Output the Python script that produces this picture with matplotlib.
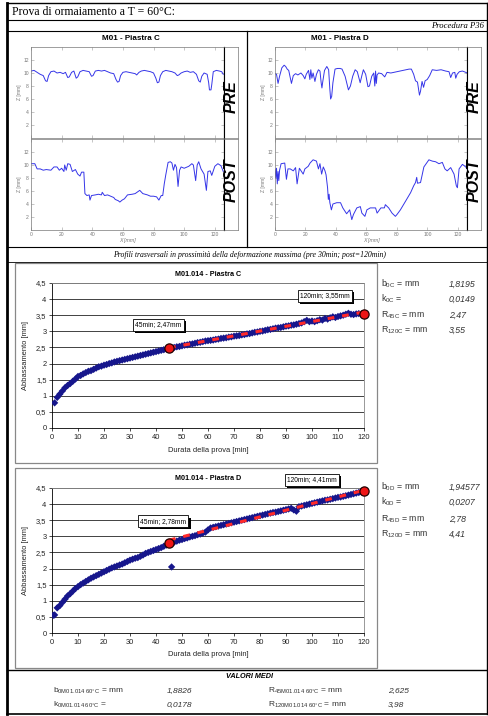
import matplotlib
matplotlib.use('Agg')
import matplotlib.pyplot as plt
from matplotlib.lines import Line2D
from matplotlib.patches import Rectangle
import matplotlib.patheffects as pe

# ---------------- DATA ----------------
# Transverse profiles (x [mm], z [mm])
pre_c_x = [0, 2, 4, 6, 8, 9.5, 10.5, 11.5, 13, 15, 17, 19, 21, 22.5, 24, 25, 26.5, 28, 29.5, 30.5, 32, 34, 36, 38,
           39.5, 40.5, 42, 44, 46, 48, 50, 52, 54, 55.5, 56.5, 57.5, 58.5, 60, 62, 64, 66, 68, 69, 70.5, 72, 74, 76,
           78, 80, 81.5, 82.5, 83.5, 84.5, 86, 88, 90, 92, 94, 95.5, 96.5, 98, 100, 102, 104, 106, 108, 109.5, 110.5,
           111.5, 113, 115, 116, 116.5, 117.5, 118, 119, 121, 123, 124.5, 125.5]
pre_c_z = [10.3, 10.4, 10.1, 9.8, 9.6, 8.8, 8.7, 9.6, 10.2, 10.3, 10.0, 10.1, 9.9, 10.1, 9.3, 9.4, 10.1, 10.3, 9.2, 9.4,
           10.2, 10.4, 10.3, 10.2, 9.5, 9.6, 10.3, 10.4, 10.3, 10.4, 10.2, 10.0, 9.9, 9.0, 8.6, 8.7, 9.6, 10.1, 10.2,
           10.1, 10.0, 9.9, 9.7, 10.1, 10.3, 10.4, 10.3, 10.2, 10.0, 9.2, 8.5, 8.6, 9.6, 10.2, 10.4, 10.3, 10.2, 10.0,
           9.6, 9.7, 10.0, 10.2, 10.3, 10.1, 10.2, 9.8, 8.8, 8.6, 9.5, 10.0, 9.8, 8.5, 7.4, 7.4, 8.2, 10.2, 10.4, 10.3,
           10.2, 9.8]

post_c_x = [0, 2.5, 4, 6, 8, 10, 13, 15, 17, 18.5, 20, 21.5, 22, 23, 24, 25.5, 27, 29, 30.5, 32, 33, 34.5, 35.2, 36.5,
            38, 38.5, 39.5, 42, 44, 46, 46.5, 48, 50, 52, 54, 55, 57, 58, 59.5, 61, 63, 66, 68, 71, 73, 76, 78, 80, 82,
            83.5, 85, 86, 87, 88, 89.5, 91, 92, 93, 94, 95, 96, 97, 98, 100, 103, 105, 106, 107.5, 108.5, 109.5, 111,
            113, 114.5, 115.5, 117, 118, 120, 122, 124, 125.5]
post_c_z = [10.2, 10.2, 9.4, 9.4, 9.2, 9.3, 9.2, 9.7, 9.7, 9.2, 9.5, 9.0, 10.0, 9.2, 10.2, 10.1, 9.0, 9.3, 8.6, 8.3,
            8.9, 8.9, 5.6, 5.3, 5.4, 4.6, 5.3, 5.4, 5.5, 5.4, 5.8, 5.3, 5.4, 5.2, 5.0, 4.7, 4.5, 4.3, 4.6, 4.8, 5.4, 5.5,
            5.6, 6.1, 5.6, 5.4, 5.2, 5.2, 5.1, 4.6, 5.3, 5.3, 7.1, 8.5, 10.4, 10.5, 10.3, 9.2, 10.1, 9.6, 6.7, 9.2, 9.7,
            9.5, 9.8, 10.2, 10.0, 7.6, 10.0, 10.5, 9.4, 8.6, 6.1, 9.0, 9.1, 8.4, 9.8, 10.2, 9.9, 9.0]

pre_d_x = [0, 1, 2, 3, 4.5, 6, 7, 8, 9, 10.8, 12, 13.5, 15, 17, 18.5, 19.6, 20.5, 22, 22.9, 23.5, 24.2, 25, 26.2,
           27.2, 28.5, 29.5, 30.3, 30.8, 31.3, 32.5, 34, 35.2, 36, 36.5, 37.2, 38, 39.4, 41, 42.7, 44, 46, 48.2, 49.5,
           51, 52.6, 54, 55.9, 57, 58, 59.5, 61, 62, 63.5, 64.8, 65.5, 66, 66.5, 67, 68, 70, 72, 73.5, 76, 80, 84, 88,
           89.5, 91, 92.2, 93.5, 94.8, 95.5, 96.5, 97.5, 98.5, 99.9, 101.5, 103.2, 106, 109, 112, 114.2, 115.3, 116.5,
           118, 118.6, 119.5, 121, 123, 125.2, 126]
pre_d_z = [9.9, 9.8, 8.4, 9.5, 10.8, 11.2, 11.0, 10.6, 10.4, 8.4, 9.6, 9.9, 9.7, 10.0, 9.6, 9.1, 9.8, 10.4, 9.0, 10.5,
           9.2, 10.0, 8.7, 9.8, 10.5, 10.3, 8.5, 7.7, 8.6, 10.4, 11.0, 10.5, 7.5, 6.0, 6.4, 8.5, 10.6, 10.7, 10.7, 10.6,
           9.5, 7.4, 8.0, 9.5, 10.5, 10.2, 8.5, 9.6, 10.5, 9.8, 7.9, 8.0, 9.5, 10.0, 8.0, 10.3, 8.4, 9.7, 10.0, 9.9,
           9.4, 10.1, 10.0, 10.2, 10.4, 10.6, 10.6, 9.8, 8.8, 8.6, 6.6, 7.2, 8.7, 7.8, 8.8, 9.0, 9.6, 10.5, 10.4, 10.5,
           10.3, 10.2, 9.3, 10.0, 10.1, 9.2, 9.8, 10.2, 10.3, 10.1, 10.0]

post_d_x = [0, 0.5, 1, 1.5, 2, 2.5, 3, 4, 6.4, 7.5, 8.5, 10, 12, 13.5, 14.5, 16, 18.5, 19.6, 21.8, 23, 25, 27.2, 28.5,
            29.5, 30.6, 31.7, 32.8, 33.5, 34.5, 35, 35.5, 36, 37, 38, 40.5, 43, 44.5, 47, 49, 50.4, 51.5, 53.7, 56, 57,
            59, 60.3, 62.5, 66, 67, 69.5, 71.8, 72.4, 74.6, 76.8, 79, 80.1, 82.3, 85.6, 89, 91, 92.2, 93, 93.5, 95.5,
            97.7, 101, 103.2, 105.4, 107.6, 109.8, 111.5, 113, 115.3, 117.5, 119, 119.7, 120.8, 123, 125.2, 126]
post_d_z = [9.4, 8.0, 9.5, 7.1, 9.0, 7.6, 9.2, 10.2, 10.3, 7.8, 9.4, 9.4, 9.1, 9.6, 7.1, 9.5, 8.6, 9.4, 9.8, 10.3,
            10.8, 10.6, 9.4, 10.2, 8.6, 9.7, 9.1, 8.5, 6.5, 4.7, 5.5, 4.2, 3.1, 4.0, 4.2, 4.2, 3.4, 2.5, 3.1, 1.6, 2.4,
            3.4, 3.6, 2.6, 2.1, 3.1, 3.4, 3.4, 2.6, 3.4, 3.4, 3.9, 3.4, 2.6, 2.1, 2.4, 3.1, 4.4, 5.75, 6.8, 7.3, 8.1,
            7.2, 7.3, 9.7, 10.8, 10.6, 10.5, 10.2, 10.4, 9.4, 9.1, 9.6, 8.6, 6.8, 6.5, 9.4, 10.1, 9.7, 9.4]

# Rutting curves (time [min], depth [mm])
time_c = list(range(1, 121))
depth_c = [0.78, 0.95, 1.05, 1.15, 1.25, 1.32, 1.38, 1.45, 1.52, 1.60, 1.63, 1.68, 1.72, 1.76, 1.78, 1.82, 1.86, 1.90,
           1.92, 1.95, 1.97, 2.00, 2.02, 2.05, 2.07, 2.09, 2.11, 2.13, 2.15, 2.17, 2.19, 2.21, 2.23, 2.25, 2.27, 2.29,
           2.31, 2.33, 2.35, 2.37, 2.39, 2.41, 2.43, 2.45, 2.47, 2.48, 2.50, 2.52, 2.53, 2.55, 2.57, 2.58, 2.60, 2.61,
           2.63, 2.65, 2.66, 2.68, 2.70, 2.71, 2.72, 2.73, 2.75, 2.76, 2.78, 2.79, 2.80, 2.82, 2.83, 2.85, 2.86, 2.87,
           2.89, 2.90, 2.92, 2.93, 2.95, 2.97, 2.98, 3.00, 3.01, 3.03, 3.05, 3.06, 3.08, 3.10, 3.11, 3.12, 3.14, 3.16,
           3.17, 3.19, 3.20, 3.22, 3.24, 3.26, 3.30, 3.34, 3.30, 3.32, 3.30, 3.33, 3.36, 3.35, 3.40, 3.38, 3.42, 3.45,
           3.43, 3.46, 3.48, 3.50, 3.53, 3.56, 3.53, 3.52, 3.54, 3.55, 3.54, 3.55]
time_d = [0.5] + list(range(1, 121))
depth_d = [0.55, 0.56, 0.78, 0.85, 0.95, 1.05, 1.15, 1.22, 1.30, 1.38, 1.44, 1.50, 1.55, 1.60, 1.65, 1.70, 1.74, 1.78,
           1.82, 1.86, 1.90, 1.94, 1.98, 2.02, 2.05, 2.08, 2.11, 2.14, 2.18, 2.22, 2.26, 2.29, 2.32, 2.34, 2.38, 2.42,
           2.47, 2.50, 2.53, 2.56, 2.59, 2.62, 2.65, 2.69, 2.73, 2.78, 2.05, 2.82, 2.85, 2.88, 2.90, 2.93, 2.95, 2.98,
           3.00, 3.02, 3.05, 3.07, 3.10, 3.13, 3.20, 3.26, 3.28, 3.30, 3.32, 3.34, 3.36, 3.38, 3.40, 3.42, 3.44, 3.46,
           3.48, 3.50, 3.52, 3.54, 3.56, 3.58, 3.60, 3.62, 3.64, 3.66, 3.68, 3.70, 3.72, 3.74, 3.75, 3.77, 3.79, 3.81,
           3.83, 3.85, 3.87, 3.82, 3.78, 3.92, 3.94, 3.96, 3.98, 4.00, 4.02, 4.04, 4.06, 4.08, 4.10, 4.12, 4.13, 4.15,
           4.17, 4.19, 4.21, 4.22, 4.24, 4.26, 4.28, 4.30, 4.32, 4.34, 4.36, 4.38, 4.41]

fit_c_t = [45, 120]
fit_c_v = [2.49, 3.60]
fit_d_t = [45, 120]
fit_d_v = [2.88, 4.43]

key_t = [45, 120]
key_c = [2.47, 3.55]
key_d = [2.78, 4.41]

label_c = ["45min; 2,47mm", "120min; 3,55mm"]
label_d = ["45min; 2,78mm", "120min; 4,41mm"]

y_ticks = [0, 0.5, 1, 1.5, 2, 2.5, 3, 3.5, 4, 4.5]
y_tick_labels = ["0", "0,5", "1", "1,5", "2", "2,5", "3", "3,5", "4", "4,5"]
x_ticks = list(range(0, 121, 10))

params_c = [("b", "0C", " = mm", "1,8195"), ("k", "0C", " =", "0,0149"),
            ("R", "45C", " = mm", "2,47"), ("R", "120C", " = mm", "3,55")]
params_d = [("b", "0D", " = mm", "1,94577"), ("k", "0D", " =", "0,0207"),
            ("R", "45D", " = mm", "2,78"), ("R", "120D", " = mm", "4,41")]
mean_left = [("b", "0M01.014 60°C", " = mm", "1,8826"), ("k", "0M01.014 60°C", " =", "0,0178")]
mean_right = [("R", "45M01.014 60°C", " = mm", "2,625"), ("R", "120M01.014 60°C", " = mm", "3,98")]

# ---------------- FIGURE ----------------
W, H = 489, 716
SANS = 'Liberation Sans'
SERIF = 'Liberation Serif'
plt.rcParams['font.family'] = [SANS, 'DejaVu Sans']
plt.rcParams['mathtext.fontset'] = 'custom'
plt.rcParams['mathtext.rm'] = SANS
plt.rcParams['mathtext.it'] = SANS + ':italic'

fig = plt.figure(figsize=(W / 100, H / 100), dpi=100)
fig.patch.set_facecolor('white')


def rect(x0, y0, x1, y1):
    return [x0 / W, 1 - y1 / H, (x1 - x0) / W, (y1 - y0) / H]


def hline(y, x0, x1, lw=0.8, color='black'):
    fig.add_artist(Line2D([x0 / W, x1 / W], [1 - y / H, 1 - y / H], transform=fig.transFigure,
                          color=color, lw=lw))


def vline(x, y0, y1, lw=0.8, color='black'):
    fig.add_artist(Line2D([x / W, x / W], [1 - y0 / H, 1 - y1 / H], transform=fig.transFigure,
                          color=color, lw=lw))


def ftext(x, y, s, **kw):
    return fig.text(x / W, 1 - y / H, s, **kw)


# frame lines
hline(3, 7, 487, lw=1.0)
hline(20, 7, 487)
hline(31, 7, 487)
hline(247, 7, 487)
hline(262, 7, 487, lw=0.6)
hline(670, 7, 487, lw=1.0)
hline(714, 7, 487, lw=1.2)
vline(7.5, 3, 714, lw=2.0)
vline(487, 3, 714, lw=1.0)
vline(247, 31, 247, lw=0.9)

ftext(12, 12, "Prova di ormaiamento a T = 60°C:", family=SERIF, fontsize=8.5, va='center', ha='left')
ftext(484, 26, "Procedura P36", family=SERIF, fontsize=6.2, style='italic', va='center', ha='right')
ftext(250, 255, "Profili trasversali in prossimità della deformazione massima (pre 30min; post=120min)",
      family=SERIF, fontsize=5.6, style='italic', va='center', ha='center')


def profile(x0, y0, x1, y1, xs, zs, show_x, tag, tag_pos, box_x1):
    ax = fig.add_axes(rect(x0, y0, x1, y1))
    ax.plot(xs, zs, color='#3535e8', lw=0.7)
    ax.set_xlim(0, 126)
    ax.set_ylim(0, 14)
    ax.set_xticks(range(0, 121, 20))
    ax.set_yticks(range(2, 13, 2))
    ax.tick_params(direction='in', length=2, width=0.4, top=True, right=True, labelsize=3.6,
                   labelcolor='#777', color='#999', pad=1.5)
    if not show_x:
        ax.tick_params(labelbottom=False)
    else:
        ax.set_xlabel("X [mm]", fontsize=3.8, color='#777', style='italic', labelpad=1)
    ax.set_ylabel("Z [mm]", fontsize=3.6, color='#777', labelpad=1)
    for s in ax.spines.values():
        s.set_linewidth(0.5)
        s.set_color('#777')
    ax.spines['right'].set_color('black')
    ax.spines['right'].set_linewidth(0.8)
    bx = fig.add_axes(rect(x1, y0, box_x1, y1))
    bx.set_xticks([])
    bx.set_yticks([])
    for s in bx.spines.values():
        s.set_linewidth(0.5)
        s.set_color('#777')
    bx.spines['left'].set_color('black')
    bx.spines['left'].set_linewidth(0.8)
    bx.text(0.5, tag_pos, tag, rotation=90, fontsize=11.5, fontweight='bold', style='italic',
            ha='center', va='center', transform=bx.transAxes)
    return ax


ftext(131, 38, "M01 - Piastra C", fontsize=5.8, fontweight='bold', ha='center', va='center')
ftext(340, 38, "M01 - Piastra D", fontsize=5.8, fontweight='bold', ha='center', va='center')
profile(31, 47, 224, 138, pre_c_x, pre_c_z, False, "PRE", 0.45, 238)
profile(31, 139, 224, 230, post_c_x, post_c_z, True, "POST", 0.55, 238)
profile(275, 47, 467, 138, pre_d_x, pre_d_z, False, "PRE", 0.45, 481)
profile(275, 139, 467, 230, post_d_x, post_d_z, True, "POST", 0.55, 481)


def shadow_label(ax, x, y, s):
    t = ax.text(x, y, s, fontsize=4.8, color='black', ha='center', va='center', clip_on=False,
                bbox=dict(boxstyle='square,pad=0.35', fc='white', ec='black', lw=0.6), zorder=7)
    t.get_bbox_patch().set_path_effects([
        pe.SimplePatchShadow(offset=(1.6, -1.6), shadow_rgbFace='black', alpha=1.0),
        pe.Normal()])


def main_chart(by0, by1, ay0, ay1, t, v, ft, fv, kv, labels, label_pos, title, title_y, xlab_y):
    fig.add_artist(Rectangle((15 / W, 1 - by1 / H), (377 - 15) / W, (by1 - by0) / H,
                             transform=fig.transFigure, fill=False, ec='#888', lw=0.9))
    ax = fig.add_axes(rect(52, ay0, 364, ay1))
    ax.set_axisbelow(True)
    ax.yaxis.grid(True, color='#222', lw=0.6)
    ax.scatter(t, v, marker='D', s=14, color='#16168c', edgecolors='none', zorder=3)
    ax.plot(ft, fv, color='#ff2a2a', lw=2.2, ls=(0, (2.2, 2.6)), zorder=4)
    ax.scatter(key_t, kv, s=44, color='#ee1515', edgecolors='#220000', linewidths=0.9, zorder=5, clip_on=False)
    ax.set_xlim(0, 120)
    ax.set_ylim(0, 4.5)
    ax.set_xticks(x_ticks)
    ax.set_yticks(y_ticks)
    ax.set_yticklabels(y_tick_labels)
    ax.tick_params(labelsize=5.4, labelcolor='#222', length=2, width=0.5, pad=2)
    for s in ['left', 'bottom']:
        ax.spines[s].set_color('black')
        ax.spines[s].set_linewidth(0.6)
    for s in ['top', 'right']:
        ax.spines[s].set_color('#888')
        ax.spines[s].set_linewidth(0.6)
    ax.set_ylabel("Abbassamento [mm]", fontsize=5.4, color='#222', labelpad=5)
    for (lx, ly), s in zip(label_pos, labels):
        shadow_label(ax, lx, ly, s)
    ftext(208, title_y, title, fontsize=5.2, fontweight='bold', ha='center', va='center')
    ftext(208, xlab_y, "Durata della prova [min]", fontsize=5.4, color='#222', ha='center', va='center')
    return ax


main_chart(263, 463, 283, 428, time_c, depth_c, fit_c_t, fit_c_v, key_c, label_c,
           [(40.8, 3.2), (105, 4.1)], "M01.014 - Piastra C", 274, 450)
main_chart(468, 668, 488, 633, time_d, depth_d, fit_d_t, fit_d_v, key_d, label_d,
           [(42.7, 3.47), (100, 4.75)], "M01.014 - Piastra D", 479, 655)


def param_block(rows, x_lab, x_val, y_rows, fs=6.3):
    for (base, sub, rest, val), y in zip(rows, y_rows):
        s = base + r"$_{\mathregular{" + sub.replace(' ', r'\ ') + r"}}$" + rest
        ftext(x_lab, y, s, fontsize=fs, color='#333', ha='left', va='center')
        ftext(x_val, y, val, fontsize=fs, color='#333', style='italic', ha='left', va='center')


param_block(params_c, 381, 449, [284, 299, 315, 330])
param_block(params_d, 381, 449, [487, 502, 519, 534])

ftext(250, 677, "VALORI MEDI", fontsize=5.2, fontweight='bold', style='italic', ha='center', va='center')
param_block(mean_left, 53, 167, [691, 705], fs=6.0)
param_block(mean_right, 268, 388, [691, 705], fs=6.0)

fig.savefig("out.png", dpi=100)
